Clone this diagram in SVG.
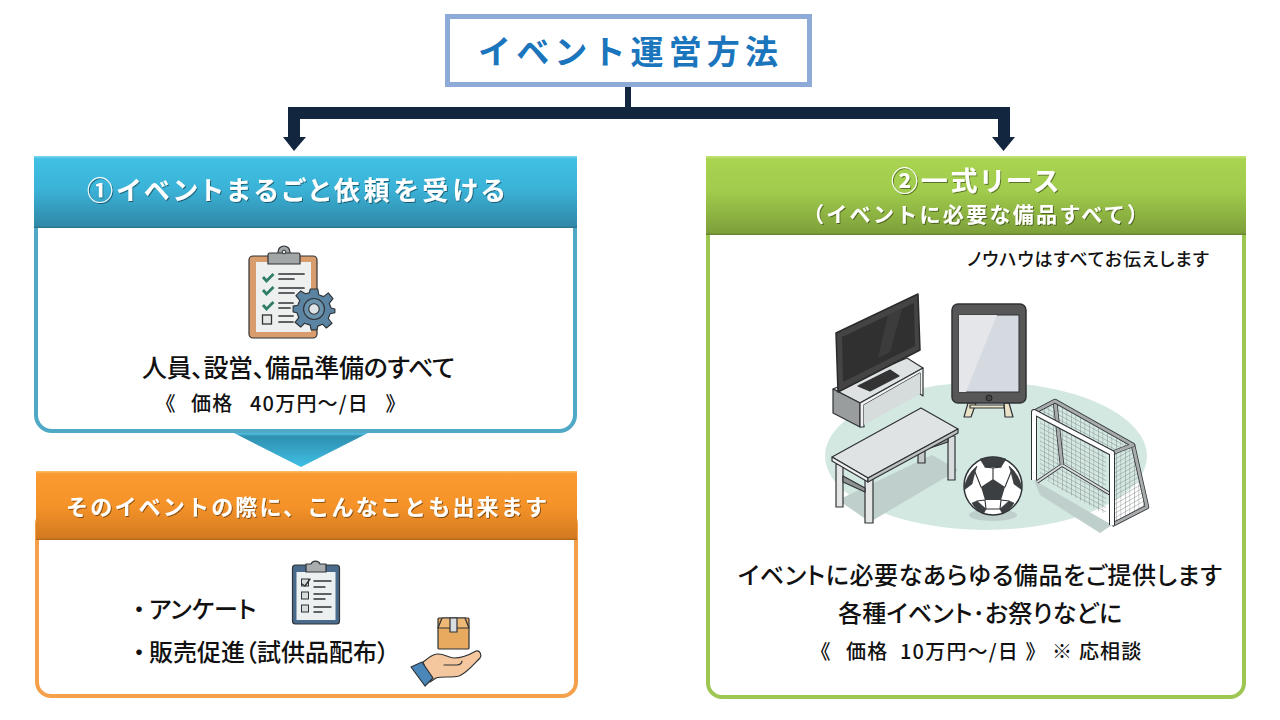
<svg xmlns="http://www.w3.org/2000/svg" width="1280" height="720" viewBox="0 0 1280 720">
<defs>
<linearGradient id="gb" x1="0" y1="0" x2="0" y2="1"><stop offset="0" stop-color="#7fd6ee"/><stop offset=".04" stop-color="#3fc0e4"/><stop offset=".45" stop-color="#3bb3d8"/><stop offset=".97" stop-color="#3089a8"/><stop offset="1" stop-color="#2a7088"/></linearGradient>
<linearGradient id="gt" x1="0" y1="0" x2="0" y2="1"><stop offset="0" stop-color="#55c4e2"/><stop offset=".1" stop-color="#2f8fb0"/><stop offset="1" stop-color="#3fc0e4"/></linearGradient>
<linearGradient id="go" x1="0" y1="0" x2="0" y2="1"><stop offset="0" stop-color="#fbc06a"/><stop offset=".04" stop-color="#fb9a30"/><stop offset=".5" stop-color="#f59329"/><stop offset=".97" stop-color="#d37a20"/><stop offset="1" stop-color="#a8611a"/></linearGradient>
<linearGradient id="gg" x1="0" y1="0" x2="0" y2="1"><stop offset="0" stop-color="#c4e47c"/><stop offset=".04" stop-color="#a9d451"/><stop offset=".45" stop-color="#a0cb4c"/><stop offset=".97" stop-color="#7ea03a"/><stop offset="1" stop-color="#627e2c"/></linearGradient>
<filter id="ts" x="-5%" y="-20%" width="110%" height="140%"><feDropShadow dx="1" dy="1" stdDeviation=".7" flood-color="#000" flood-opacity=".45"/></filter>
<pattern id="netA" width="4.500" height="4.500" patternUnits="userSpaceOnUse" patternTransform="skewY(28)"><path d="M0 0H4.500M0 0V4.500" stroke="#7f8484" stroke-width=".8" fill="none"/></pattern>
<pattern id="netB" width="4.500" height="4.500" patternUnits="userSpaceOnUse" patternTransform="skewY(-30)"><path d="M0 0H4.500M0 0V4.500" stroke="#7f8484" stroke-width=".8" fill="none"/></pattern>
</defs>
<style>
text{font-family:"Noto Sans CJK JP","Noto Sans CJK SC",sans-serif;text-anchor:middle;fill:#111;font-weight:500;font-feature-settings:"palt"}
.w{fill:#fff;font-weight:700;filter:url(#ts)}
.s{text-anchor:start}
.p{letter-spacing:1.200px}
.k{fill:none;stroke:#2f3236;stroke-linecap:round;stroke-linejoin:round}
.o{stroke:#2f3236;stroke-width:1.200;stroke-linejoin:round}
</style>
<rect width="1280" height="720" fill="#fff"/>

<g id="connectors" fill="#12263f">
<path d="M625 86h6v21h-6z"/>
<path d="M288 107H1010V137H1015L1003.500 151L992 137H998V119H300V137H306L294 151L283 137H288z"/>
<path id="flow-arrow" d="M234 433H368L301 467z" fill="url(#gt)"/>
</g>

<g id="title">
<rect x="447.500" y="16.500" width="362" height="68" fill="#fff" stroke="#8eaad6" stroke-width="5"/>
<text x="628" y="64" font-size="33" style="fill:#1b75bc;font-weight:700;font-feature-settings:normal" textLength="300" lengthAdjust="spacing">イベント運営方法</text>
</g>

<g id="node-1">
<rect x="36" y="200" width="539" height="231" rx="16" fill="#fff" stroke="#4fa8c6" stroke-width="4"/>
<rect x="34" y="156" width="543" height="72" fill="url(#gb)"/>
<text class="w" x="296" y="200" font-size="26" textLength="418" lengthAdjust="spacing">①イベントまるごと依頼を受ける</text>
<text x="298.500" y="377" font-size="25" textLength="313" lengthAdjust="spacing">人員、設営、備品準備のすべて</text>
<text class="s p" y="411" font-size="20"><tspan x="165">《</tspan><tspan x="191">価格</tspan><tspan x="250">40万円～/日</tspan><tspan x="386">》</tspan></text>
</g>

<g id="icon-clipboard-gear">
<rect x="249" y="256" width="68" height="82" rx="4" fill="#d99c6c" class="o"/>
<rect x="256" y="262" width="55" height="70" fill="#edf0ee"/>
<circle cx="284" cy="252" r="6" fill="#a3a6a6" class="o"/>
<path d="M268 264V255a2 2 0 0 1 2-2h28a2 2 0 0 1 2 2v9z" fill="#a3a6a6" class="o"/>
<circle cx="284" cy="252" r="1.800" fill="#edf0ee" stroke="#2f3236"/>
<path d="M263 277l3.500 4 7-7M263 290l3.500 4 7-7M263 305l3.500 4 7-7" fill="none" stroke="#2f7d68" stroke-width="2.800"/>
<path class="k" stroke-width="1.700" d="M279 274h25M279 279h15M279 288h25M279 293h15M279 303h14M279 308h11M279 316h14M279 322h14"/>
<rect x="262.500" y="315" width="9" height="9" fill="#e6e8e6" stroke="#2f3236" stroke-width="1.300"/>
<g transform="translate(314 309) scale(.95)">
<path d="M-4-21H4L5-15L10-13L15-17L20-11L16-6L18-1L22 0V4L17 5L15 10L19 15L13 20L9 16L4 18L3 22H-3L-4 17L-10 15L-14 19L-20 14L-16 9L-18 4L-22 3V-3L-17-4L-15-9L-19-14L-14-19L-9-16L-5-17z" fill="#5a84a2" class="o"/>
<circle r="11" fill="#6a93ad" stroke="#2f3236" stroke-width="1.200"/>
<circle r="5.500" fill="#dfe4e6" stroke="#2f3236" stroke-width="1.200"/>
</g>
</g>

<g id="node-3">
<rect x="37" y="510" width="539" height="186" rx="14" fill="#fff" stroke="#f5a14c" stroke-width="4"/>
<rect x="36" y="471" width="541" height="69" fill="url(#go)"/>
<text class="w" x="306.500" y="515" font-size="22" style="font-feature-settings:normal" textLength="481" lengthAdjust="spacing">そのイベントの際に、こんなことも出来ます</text>
<text class="s" y="618" font-size="24"><tspan x="127" style="font-feature-settings:normal">・</tspan><tspan x="149">アンケート</tspan></text>
<text class="s" y="661" font-size="24"><tspan x="127" style="font-feature-settings:normal">・</tspan><tspan x="149">販売促進（試供品配布）</tspan></text>
</g>

<g id="icon-checklist">
<rect x="292.500" y="565" width="47" height="59" rx="3" fill="#4b6b8d" class="o"/>
<rect x="296.500" y="572" width="39" height="48" fill="#edf0f0"/>
<path d="M306 572V564h5a5 5 0 0 1 9 0h6v8z" fill="#a9adae" class="o"/>
<g fill="#d9dcdc" stroke="#2f3236"><rect x="301.500" y="579" width="7" height="7"/><rect x="301.500" y="592" width="7" height="7"/><rect x="301.500" y="605" width="7" height="7"/></g>
<path class="k" stroke-width="1.400" d="M302 584l3 2 5-7M314 581h17M314 587h11M314 594h17M314 599h11M314 607h17M314 612h8"/>
</g>

<g id="icon-hand-box">
<rect x="438" y="618" width="31" height="31" rx="1" fill="#e7aa5e" class="o"/>
<path d="M438 628l4-10h23l4 10z" fill="#edb974" class="o"/>
<path d="M450 618h7v14h-7z" fill="#d8dde0" class="o"/>
<path d="M423 662c5-3 8-8 15-8c7 0 11 4 16 4c8 0 15-3 22-7c4-1 6 4 4 7c-6 6-13 15-21 18c-8 2-17 0-23 2l-6 4z" fill="#f4c79e" class="o"/>
<path class="k" stroke-width="1.200" d="M444 665h13c3 0 5-2 5-4"/>
<path d="M411 667l11-5l11 16l-8 8z" fill="#4a86b8" class="o"/>
</g>

<g id="node-2">
<rect x="708" y="200" width="536" height="497" rx="14" fill="#fff" stroke="#9dc652" stroke-width="4"/>
<rect x="706" y="156" width="540" height="79" fill="url(#gg)"/>
<text class="w" x="975" y="191" font-size="27" textLength="168" lengthAdjust="spacing">②一式リース</text>
<text class="w" x="975.500" y="222" font-size="21" textLength="345" lengthAdjust="spacing" style="font-feature-settings:normal">（イベントに必要な備品すべて）</text>
<text x="1088" y="266" font-size="18" textLength="242" lengthAdjust="spacing">ノウハウはすべてお伝えします</text>
<text x="980" y="584" font-size="24" textLength="484" lengthAdjust="spacing">イベントに必要なあらゆる備品をご提供します</text>
<text x="980" y="622" font-size="24" textLength="284" lengthAdjust="spacing">各種イベント･お祭りなどに</text>
<text class="s p" y="659" font-size="20"><tspan x="820">《</tspan><tspan x="846">価格</tspan><tspan x="900">10万円～/日</tspan><tspan x="1026">》</tspan><tspan x="1052">※ 応相談</tspan></text>
</g>

<g id="scene-equipment">
<ellipse cx="986" cy="456" rx="161" ry="74" fill="#d4e8e2"/>
<path d="M838 500L932 455L958 470L870 522z" fill="#bfcfcb"/>
<path d="M1034 480L1112 525L1100 533L1040 495z" fill="#bfcfcb"/>
<ellipse cx="993" cy="515" rx="24" ry="6" fill="#bfcfcb"/>
<!-- tv stand -->
<path d="M833 389L907 358L923 368L860 403z" fill="#dfe2e2" class="o"/>
<path d="M833 389L860 403V427L833 413z" fill="#9a9d9d" class="o"/>
<path d="M860 403L923 368V396L920 394V373L864 405V427L860 427z" fill="#f0f1f1" class="o"/>
<path d="M864 405L920 373V394L864 425z" fill="#d5dcdb"/>
<path d="M858 386L890 370L899 376L870 391z" fill="#333" class="o"/>
<!-- tv -->
<path d="M836 333L918 294L920 350L838 392z" fill="#444" stroke="#2a2a2a" stroke-width="1.500" stroke-linejoin="round"/>
<path d="M842 337L914 303L915 346L843 382z" fill="#303030"/>
<path d="M888 315L902 309L890 352L878 358z" fill="#3c3c3c"/>
<!-- tablet -->
<path d="M968 403L964 417H971L976 403zM1004 403L1005 417H1013L1009 403z" fill="#e9e2c6" class="o"/>
<path d="M970 405H1004V408H970z" fill="#e9e2c6" class="o"/>
<rect x="952" y="304" width="74" height="99" rx="6" fill="#575757" stroke="#2f3236" stroke-width="1.500"/>
<rect x="959" y="315" width="60" height="77" fill="#d5dae1" stroke="#2f3236"/>
<path d="M959 315H997L966 392H959z" fill="#e4e6e9"/>
<circle cx="989" cy="398" r="3" fill="#444" stroke="#222"/>
<!-- table -->
<path d="M918 450h7v13h-7z" fill="#c5c9c9" class="o"/>
<path d="M836 464h7v43h-7z" fill="#e4e6e6" class="o"/>
<path d="M948 436h7v44h-7z" fill="#d9dcdc" class="o"/>
<path d="M865 478h8v45h-8z" fill="#e4e6e6" class="o"/>
<path d="M843 476L865 488V492L843 482zM918 446L948 436V442L918 452z" fill="#8d9191" class="o"/>
<path d="M832 457L921 408L958 429L868 478z" fill="#dfe3e3" class="o"/>
<path d="M832 457L868 478V482L832 461z" fill="#eef0f0" class="o"/>
<path d="M868 478L958 429V433L868 482z" fill="#bfc3c3" class="o"/>
<!-- ball -->
<circle cx="993" cy="486" r="29" fill="#fff" stroke="#2f3236" stroke-width="1.500"/>
<path d="M993 479L1005 487L1001 500H985L981 487z" fill="#3c3f41"/>
<path d="M980 459Q993 455 1006 459L1001 467H985zM1009 466Q1020 475 1022 490L1014 484L1011 472zM977 466Q966 475 964 490L972 484L975 472zM972 503Q977 512 984 513L986 509L977 501zM1014 503Q1009 512 1002 513L1000 509L1009 501z" fill="#3c3f41" stroke="#2f3236" stroke-width=".6"/>
<path class="k" stroke-width="1.100" d="M993 479V468M985 467L993 468L1001 467M1005 487L1011 472M981 487L975 472M985 500L977 501M1001 500L1009 501M985 500L986 509M1001 500L1000 509M986 509H1000"/>
<!-- goal -->
<path d="M1034 412L1055 401L1133 445L1112 453z" fill="url(#netA)"/>
<path d="M1040 416L1106 452L1106 515L1062 490L1040 476z" fill="url(#netA)"/>
<path d="M1112 453L1133 445L1147 507L1112 525z" fill="url(#netB)"/>
<path d="M1037 482L1062 465L1112 495" fill="none" stroke="#2f3236" stroke-width="3.500"/>
<path d="M1037 482L1062 465L1112 495" fill="none" stroke="#d9dcdc" stroke-width="2"/>
<path d="M1055 401L1062 465M1133 445L1147 507L1112 525" fill="none" stroke="#2f3236" stroke-width="4.500" stroke-linejoin="round"/>
<path d="M1055 401L1062 465M1133 445L1147 507L1112 525" fill="none" stroke="#a8acac" stroke-width="3" stroke-linejoin="round"/>
<path d="M1034 412L1055 401L1133 445L1112 453" fill="none" stroke="#2f3236" stroke-width="4.500" stroke-linejoin="round"/>
<path d="M1034 412L1055 401L1133 445L1112 453" fill="none" stroke="#a8acac" stroke-width="3" stroke-linejoin="round"/>
<path d="M1034 480V412L1112 453V525" fill="none" stroke="#2f3236" stroke-width="6" stroke-linejoin="round"/>
<path d="M1034 480V412L1112 453V525" fill="none" stroke="#fff" stroke-width="4" stroke-linejoin="round"/>
</g>
</svg>
